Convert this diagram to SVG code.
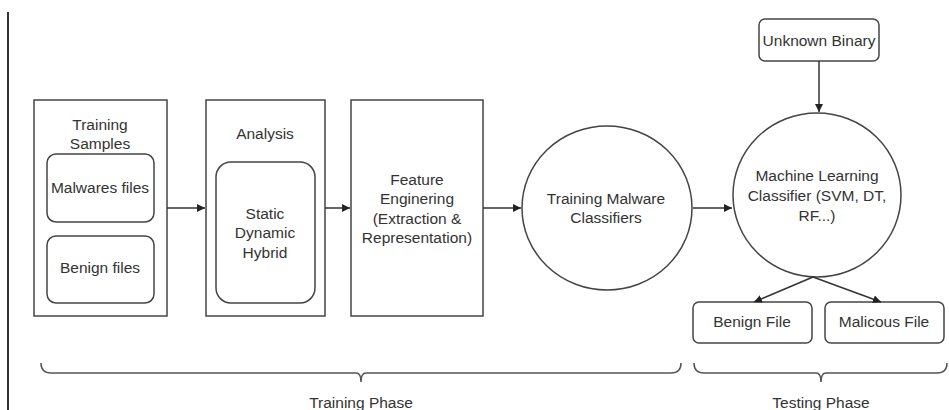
<svg xmlns="http://www.w3.org/2000/svg" width="949" height="410" viewBox="0 0 949 410">
  <defs>
    <marker id="arrow" viewBox="0 0 10 10" refX="10" refY="5" markerWidth="8" markerHeight="8" markerUnits="userSpaceOnUse" orient="auto">
      <path d="M0,0 L10,5 L0,10 z" fill="#222"/>
    </marker>
    <style>
      .box { fill: #fff; stroke: #444; stroke-width: 1.5; }
      .conn { fill: none; stroke: #333; stroke-width: 1.5; marker-end: url(#arrow); }
      .brace { fill: none; stroke: #555; stroke-width: 1.5; }
      text { font-family: "Liberation Sans", Arial, sans-serif; font-size: 15.5px; fill: #333; text-anchor: middle; }
    </style>
  </defs>

  <rect width="949" height="410" fill="#fff"/>

  <!-- left margin rule -->
  <line x1="8" y1="12" x2="8" y2="410" stroke="#333" stroke-width="2"/>

  <g id="training-samples">
    <rect class="box" x="34" y="100" width="133" height="216"/>
    <text x="100" y="130">Training</text>
    <text x="100" y="149">Samples</text>
    <g id="malwares-files">
      <rect class="box" x="47" y="154" width="107" height="68" rx="9"/>
      <text x="100" y="193">Malwares files</text>
    </g>
    <g id="benign-files">
      <rect class="box" x="47" y="236" width="107" height="67" rx="9"/>
      <text x="100" y="273">Benign files</text>
    </g>
  </g>

  <g id="analysis">
    <rect class="box" x="206" y="100" width="119" height="216"/>
    <text x="265" y="139">Analysis</text>
    <g id="analysis-types">
      <rect class="box" x="216" y="162" width="99" height="141" rx="15"/>
      <text x="265" y="219">Static</text>
      <text x="265" y="238">Dynamic</text>
      <text x="265" y="258">Hybrid</text>
    </g>
  </g>

  <g id="feature-engineering">
    <rect class="box" x="351" y="100" width="132" height="216"/>
    <text x="417" y="185">Feature</text>
    <text x="417" y="204">Enginering</text>
    <text x="417" y="224">(Extraction &amp;</text>
    <text x="417" y="243">Representation)</text>
  </g>

  <g id="training-classifiers">
    <ellipse class="box" cx="607" cy="208" rx="85" ry="82"/>
    <text x="606" y="204">Training Malware</text>
    <text x="606" y="223">Classifiers</text>
  </g>

  <g id="unknown-binary">
    <rect class="box" x="759" y="19" width="120" height="42" rx="6"/>
    <text x="819" y="46">Unknown Binary</text>
  </g>

  <g id="ml-classifier">
    <ellipse class="box" cx="817" cy="195" rx="84" ry="82"/>
    <text x="817" y="181">Machine Learning</text>
    <text x="817" y="201">Classifier (SVM, DT,</text>
    <text x="817" y="221">RF...)</text>
  </g>

  <g id="benign-file">
    <rect class="box" x="693" y="302" width="119" height="41" rx="6"/>
    <text x="752" y="327">Benign File</text>
  </g>

  <g id="malicous-file">
    <rect class="box" x="825" y="302" width="119" height="41" rx="6"/>
    <text x="884" y="327">Malicous File</text>
  </g>

  <g id="connectors">
    <line class="conn" x1="167" y1="208" x2="205" y2="208"/>
    <line class="conn" x1="325" y1="208" x2="350" y2="208"/>
    <line class="conn" x1="483" y1="208" x2="521" y2="208"/>
    <line class="conn" x1="693" y1="208" x2="732" y2="208"/>
    <line class="conn" x1="819" y1="61" x2="819" y2="112"/>
    <line class="conn" x1="813" y1="277" x2="754" y2="302"/>
    <line class="conn" x1="813" y1="277" x2="881" y2="302"/>
  </g>

  <g id="phase-braces">
    <path class="brace" d="M41,363 Q41,373 51,373 L356,373 Q361,373 361,382 Q361,373 366,373 L671,373 Q681,373 681,363"/>
    <text x="361" y="408">Training Phase</text>
    <path class="brace" d="M694,363 Q694,373 704,373 L816,373 Q821,373 821,382 Q821,373 826,373 L937,373 Q947,373 947,363"/>
    <text x="821" y="408">Testing Phase</text>
  </g>
</svg>
